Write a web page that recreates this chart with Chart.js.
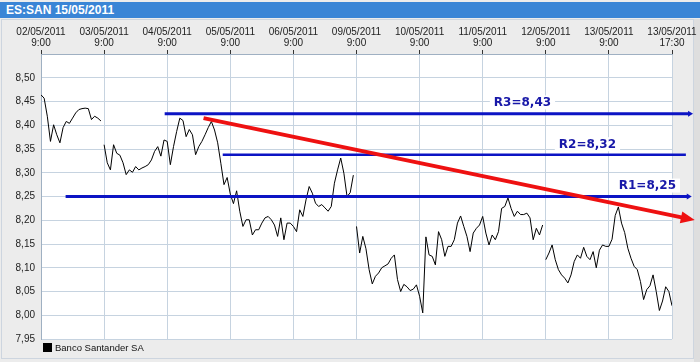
<!DOCTYPE html>
<html>
<head>
<meta charset="utf-8">
<script src="https://cdn.jsdelivr.net/npm/chart.js@4.4.0/dist/chart.umd.min.js"></script>
<style>
  body { margin: 0; background: #ececec; }
  #wrap { position: relative; width: 700px; height: 362px; overflow: hidden; background: #ececec; }
  #title { position: absolute; left: 0; top: 2px; width: 700px; height: 16px; background: #3a85d6;
           color: #fff; font: bold 12px "Liberation Sans", Arial, sans-serif; line-height: 17px;
           padding-left: 6px; box-sizing: border-box; }
  #frame { position: absolute; left: 1px; top: 19px; width: 691px; height: 338px; border: 1px solid #cdd5df; }
  #rside { position: absolute; left: 694px; top: 19px; width: 6px; height: 343px; background: #dedede; }
  #box { position: absolute; left: 0; top: 19px; width: 700px; height: 343px; }
</style>
</head>
<body>
<div id="wrap">
  <div id="title">ES:SAN 15/05/2011</div>
  <div id="frame"></div>
  <div id="rside"></div>
  <div id="box"><canvas id="ChartSan"></canvas></div>
</div>
<script>
// trading days (one session = one unit on the x axis)
const days = ['02/05/2011', '03/05/2011', '04/05/2011', '05/05/2011', '06/05/2011',
              '09/05/2011', '10/05/2011', '11/05/2011', '12/05/2011', '13/05/2011'];

// Banco Santander prices, 20 readings per session (last one closes at 17:30)
const p0205 = [8.464, 8.457, 8.419, 8.366, 8.401, 8.380, 8.363, 8.395, 8.408, 8.404,
               8.415, 8.426, 8.433, 8.435, 8.436, 8.435, 8.412, 8.419, 8.415, 8.409];
const p0305 = [8.359, 8.321, 8.306, 8.359, 8.341, 8.337, 8.321, 8.296, 8.306, 8.301,
               8.313, 8.306, 8.310, 8.313, 8.317, 8.327, 8.345, 8.355, 8.335, 8.369];
const p0405 = [8.366, 8.317, 8.355, 8.387, 8.415, 8.410, 8.376, 8.391, 8.380, 8.338,
               8.355, 8.366, 8.380, 8.395, 8.408, 8.390, 8.363, 8.320, 8.275, 8.290];
const p0505 = [8.255, 8.235, 8.262, 8.219, 8.187, 8.201, 8.201, 8.169, 8.180, 8.180,
               8.194, 8.205, 8.208, 8.201, 8.190, 8.166, 8.205, 8.159, 8.194, 8.194];
const p0605 = [8.187, 8.176, 8.222, 8.208, 8.243, 8.271, 8.257, 8.236, 8.229, 8.233,
               8.226, 8.219, 8.229, 8.278, 8.306, 8.331, 8.299, 8.250, 8.258, 8.295];
const p0905 = [8.187, 8.131, 8.166, 8.140, 8.096, 8.066, 8.082, 8.089, 8.100, 8.104,
               8.108, 8.120, 8.127, 8.075, 8.050, 8.065, 8.060, 8.052, 8.055, 8.064];
const p1005 = [8.040, 8.005, 8.165, 8.127, 8.124, 8.106, 8.176, 8.159, 8.124, 8.145,
               8.145, 8.159, 8.194, 8.209, 8.187, 8.166, 8.134, 8.173, 8.183, 8.190];
const p1105 = [8.208, 8.173, 8.148, 8.169, 8.159, 8.176, 8.225, 8.229, 8.247, 8.225,
               8.208, 8.219, 8.212, 8.212, 8.215, 8.205, 8.159, 8.183, 8.169, 8.190];
const p1205 = [8.117, 8.131, 8.148, 8.117, 8.096, 8.085, 8.078, 8.068, 8.085, 8.113,
               8.127, 8.120, 8.143, 8.124, 8.117, 8.134, 8.100, 8.137, 8.148, 8.145];
const p1305 = [8.145, 8.160, 8.210, 8.228, 8.194, 8.174, 8.141, 8.120, 8.103, 8.096,
               8.071, 8.033, 8.054, 8.062, 8.085, 8.050, 8.010, 8.030, 8.060, 8.050, 8.020];
const dayPrices = [p0205, p0305, p0405, p0505, p0605, p0905, p1005, p1105, p1205, p1305];
// where the line is not joined to the previous session
const breakBefore = [false, true, false, false, false, true, false, false, true, false];

// axis ticks
const xTickDays = [0, 1, 2, 3, 4, 5, 6, 7, 8, 9, 10];
const xTickLabels = days.map(d => [d, '9:00']).concat([['13/05/2011', '17:30']]);
const yTickValues = [7.95, 8.00, 8.05, 8.10, 8.15, 8.20, 8.25, 8.30, 8.35, 8.40, 8.45, 8.50, 8.55];
const yTickLabels = ['7,95', '8,00', '8,05', '8,10', '8,15', '8,20', '8,25', '8,30', '8,35', '8,40', '8,45', '8,50', ''];

// resistance levels drawn on the chart
const levelNames = ['R1=8,25', 'R2=8,32', 'R3=8,43'];
const levelValues = [8.25, 8.338, 8.424];
const levelFrom = [0.39, 2.88, 1.96];
const levelTo = [10.25, 10.22, 10.27];
const levelLabelDay = [9.61, 8.66, 7.63];
const levelLabelValue = [8.273, 8.360, 8.448];

// falling trend line
const trendDays = [2.576, 10.19];
const trendValues = [8.415, 8.205];

const points = [];
dayPrices.forEach((arr, d) => {
    if (breakBefore[d]) points.push({ x: d - 0.01, y: null });
    arr.forEach((v, i) => points.push({ x: d + i / 20, y: v }));
});

var blue = '#0c14c4';
var red = '#ee1111';

const datasets = [
    {
        label: 'trend',
        data: trendDays.map((x, i) => ({ x: x, y: trendValues[i] })),
        borderColor: red, borderWidth: 4, pointRadius: 0, clip: false, order: 0,
        borderCapStyle: 'butt'
    }
];
levelValues.forEach((v, i) => {
    datasets.push({
        label: levelNames[i],
        data: [{ x: levelFrom[i], y: v }, { x: levelTo[i], y: v }],
        borderColor: blue, borderWidth: i == 1 ? 2.5 : 3, pointRadius: 0, clip: false, order: 1
    });
});
datasets.push({
    label: 'Banco Santander SA',
    data: points,
    borderColor: '#000', borderWidth: 1, pointRadius: 0, tension: 0, spanGaps: false, order: 3
});

const plotBg = {
    id: 'plotBg',
    beforeDraw(chart) {
        const a = chart.chartArea, ctx = chart.ctx;
        ctx.save();
        ctx.fillStyle = '#fff';
        ctx.fillRect(a.left, a.top, a.right - a.left, a.bottom - a.top);
        ctx.restore();
    }
};

function arrowHead(ctx, p1, p2, back, len, half, color) {
    const dx = p2.x - p1.x, dy = p2.y - p1.y;
    const l = Math.sqrt(dx * dx + dy * dy);
    const ux = dx / l, uy = dy / l;
    const bx = p2.x - ux * back, by = p2.y - uy * back;
    const tx = bx + ux * len, ty = by + uy * len;
    ctx.beginPath();
    ctx.moveTo(tx, ty);
    ctx.lineTo(bx - uy * half, by + ux * half);
    ctx.lineTo(bx + uy * half, by - ux * half);
    ctx.closePath();
    ctx.fillStyle = color;
    ctx.fill();
}

const overlay = {
    id: 'overlay',
    afterDatasetsDraw(chart) {
        const ctx = chart.ctx;
        const xs = chart.scales.x, ys = chart.scales.y;
        ctx.save();
        const t = chart.getDatasetMeta(0).data;
        arrowHead(ctx, t[0], t[1], 3, 14, 6, red);
        [1, 3].forEach(i => {
            const d = chart.getDatasetMeta(i).data;
            arrowHead(ctx, d[0], d[1], 1, 5, 3, blue);
        });
        ctx.font = 'bold 12px "DejaVu Sans"';
        ctx.textAlign = 'center';
        ctx.textBaseline = 'middle';
        levelNames.forEach((name, i) => {
            const x = xs.getPixelForValue(levelLabelDay[i]);
            const y = ys.getPixelForValue(levelLabelValue[i]);
            const w = ctx.measureText(name).width + 8;
            ctx.fillStyle = '#fff';
            ctx.fillRect(x - w / 2, y - 7, w, 14);
            ctx.fillStyle = '#1818a8';
            ctx.fillText(name, x, y + 0.5);
        });
        ctx.restore();
    },
    afterDraw(chart) {
        // legend
        const a = chart.chartArea, ctx = chart.ctx;
        ctx.save();
        ctx.fillStyle = '#000';
        ctx.fillRect(a.left + 2, a.bottom + 4, 9, 9);
        ctx.fillStyle = '#111';
        ctx.font = '9.5px "Liberation Sans"';
        ctx.textBaseline = 'middle';
        ctx.fillText('Banco Santander SA', a.left + 14, a.bottom + 9);
        ctx.restore();
    }
};

const chartSan = document.getElementById('ChartSan');
new Chart(chartSan, {
    type: 'line',
    data: { datasets: datasets },
    plugins: [plotBg, overlay],
    options: {
        responsive: true,
        maintainAspectRatio: false,
        animation: false,
        events: [],
        layout: { padding: { left: 0, right: 28, top: 0, bottom: 23 } },
        plugins: {
            legend: { display: false },
            tooltip: { enabled: false },
            title: { display: false }
        },
        scales: {
            x: {
                type: 'linear',
                position: 'top',
                min: 0,
                max: 10,
                afterBuildTicks: s => { s.ticks = xTickDays.map(v => ({ value: v })); },
                afterFit: s => { s.height = 35; },
                ticks: {
                    autoSkip: false, maxRotation: 0, padding: 1,
                    color: '#222',
                    font: { family: 'Liberation Sans', size: 10, lineHeight: 1.1 },
                    callback: (v, i) => xTickLabels[i]
                },
                grid: { color: '#c6d3e0', tickColor: '#333', tickLength: 4 },
                border: { color: '#9fb0c2' }
            },
            y: {
                min: 7.95,
                max: 8.55,
                afterBuildTicks: s => { s.ticks = yTickValues.map(v => ({ value: v })); },
                afterFit: s => { s.width = 41; },
                ticks: {
                    padding: 6,
                    color: '#222',
                    font: { family: 'Liberation Sans', size: 10 },
                    callback: (v, i) => yTickLabels[i]
                },
                grid: { color: '#c6d3e0', drawTicks: false },
                border: { color: '#9fb0c2' }
            }
        }
    }
});
</script>
</body>
</html>
